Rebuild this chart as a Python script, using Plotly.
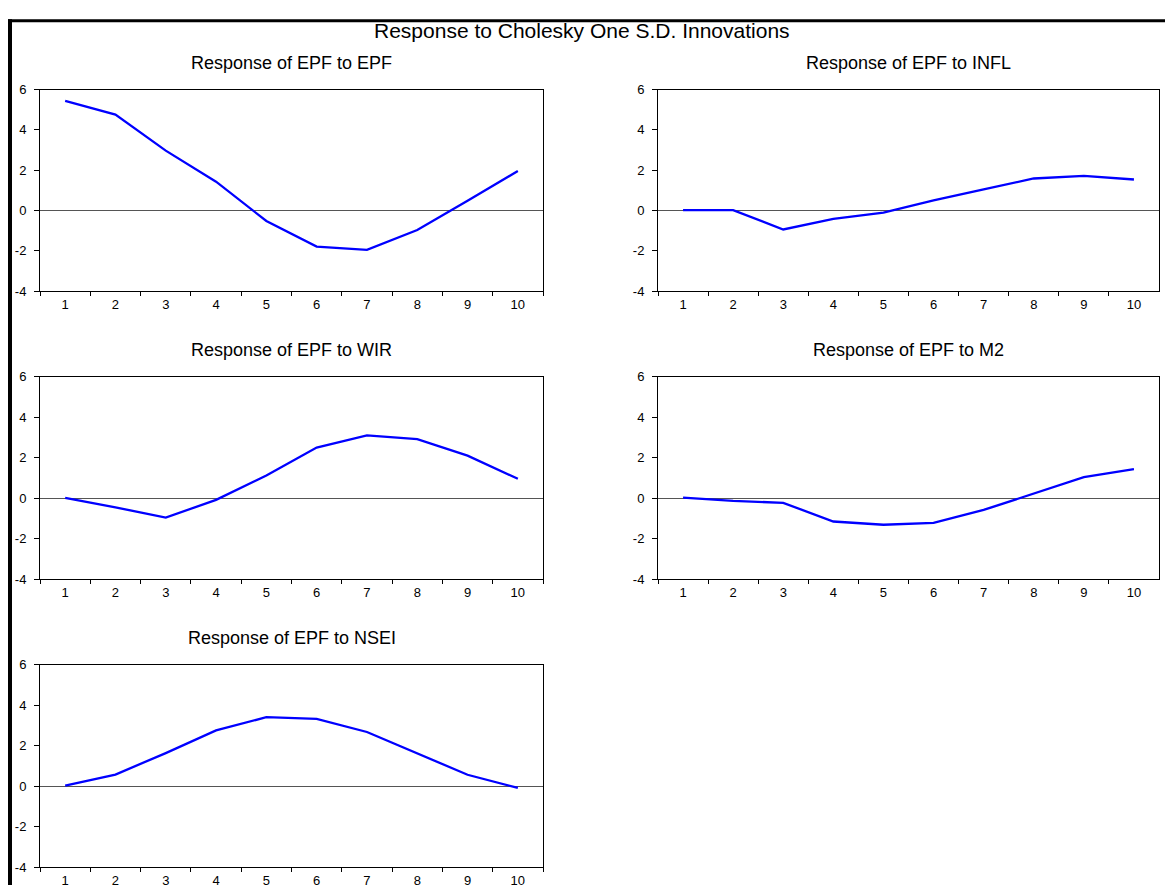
import plotly.graph_objects as go

W, H = 1165, 893

periods = ["1", "2", "3", "4", "5", "6", "7", "8", "9", "10"]
y_ticks = [-4, -2, 0, 2, 4, 6]
y_tick_labels = ["-4", "-2", "0", "2", "4", "6"]

resp_epf = [5.44, 4.76, 2.97, 1.43, -0.52, -1.79, -1.95, -0.97, 0.49, 1.96]
resp_infl = [0.02, 0.02, -0.94, -0.41, -0.11, 0.50, 1.05, 1.59, 1.72, 1.54]
resp_wir = [0.02, -0.45, -0.96, -0.08, 1.12, 2.50, 3.10, 2.92, 2.10, 0.96]
resp_m2 = [0.03, -0.13, -0.23, -1.15, -1.31, -1.22, -0.58, 0.24, 1.04, 1.44]
resp_nsei = [0.03, 0.58, 1.64, 2.76, 3.41, 3.33, 2.68, 1.61, 0.57, -0.08]

titles = ["Response of EPF to EPF", "Response of EPF to INFL",
          "Response of EPF to WIR", "Response of EPF to M2",
          "Response of EPF to NSEI"]
series = [resp_epf, resp_infl, resp_wir, resp_m2, resp_nsei]
main_title = "Response to Cholesky One S.D. Innovations"

# pixel boxes of plot areas
cols = [(40, 543), (658, 1159)]
rows = [(84, 289), (376, 582), (669, 875)]
positions = [(0, 0), (0, 1), (1, 0), (1, 1), (2, 0)]

FONT = "Arial, Liberation Sans, sans-serif"
fig = go.Figure()
annotations = []
for i, (vals, ttl, (r, c)) in enumerate(zip(series, titles, positions)):
    k = "" if i == 0 else str(i + 1)
    xa, ya = "x" + k, "y" + k
    fig.add_trace(go.Scatter(x=periods, y=vals, mode="lines",
                             line=dict(color="#0000FF", width=2.3),
                             xaxis=xa, yaxis=ya, showlegend=False,
                             hoverinfo="skip"))
    x0, x1 = cols[c]
    y0, y1 = rows[r]
    xd = [x0 / W, x1 / W]
    yd = [1 - y1 / H, 1 - y0 / H]
    fig.layout["xaxis" + k] = dict(
        domain=xd, anchor=ya, type="category", range=[-0.5, 9.5],
        tickmode="array", tickvals=periods, ticktext=periods,
        tickson="boundaries", ticks="outside", ticklen=4, tickwidth=1,
        tickcolor="#000", showline=True, linecolor="#000", linewidth=1,
        mirror=True, showgrid=False, zeroline=False, fixedrange=True,
        ticklabelstandoff=1,
        tickfont=dict(family=FONT, size=13, color="#000"))
    fig.layout["yaxis" + k] = dict(
        domain=yd, anchor=xa, range=[-4, 6], tickmode="array",
        tickvals=y_ticks, ticktext=y_tick_labels, ticks="outside",
        ticklen=5, tickwidth=1,
        tickcolor="#000", showline=True, linecolor="#000", linewidth=1,
        mirror=True, showgrid=False, zeroline=True, zerolinecolor="#555",
        zerolinewidth=1, fixedrange=True, ticklabelstandoff=5,
        tickfont=dict(family=FONT, size=13, color="#000"))
    annotations.append(dict(text=ttl, xref="paper", yref="paper",
                            x=(x0 + x1) / 2 / W, y=1 - (y0 - 27) / H,
                            xanchor="center", yanchor="middle",
                            showarrow=False,
                            font=dict(family=FONT, size=18, color="#000")))

annotations.append(dict(text=main_title, xref="paper", yref="paper",
                        x=582 / W, y=1 - 24 / H, xanchor="center",
                        yanchor="middle", showarrow=False,
                        font=dict(family=FONT, size=21, color="#000")))

shapes = [
    dict(type="line", xref="paper", yref="paper", x0=8 / W, x1=1.0,
         y0=1 - 14 / H, y1=1 - 14 / H, line=dict(color="#000", width=3)),
    dict(type="line", xref="paper", yref="paper", x0=10 / W, x1=10 / W,
         y0=1 - 12.5 / H, y1=0, line=dict(color="#000", width=4)),
]

fig.update_layout(width=W, height=H, margin=dict(l=0, r=0, t=0, b=0),
                  paper_bgcolor="white", plot_bgcolor="white",
                  annotations=annotations, shapes=shapes,
                  font=dict(family=FONT))
fig.write_html("out.html", config={"displayModeBar": False})
